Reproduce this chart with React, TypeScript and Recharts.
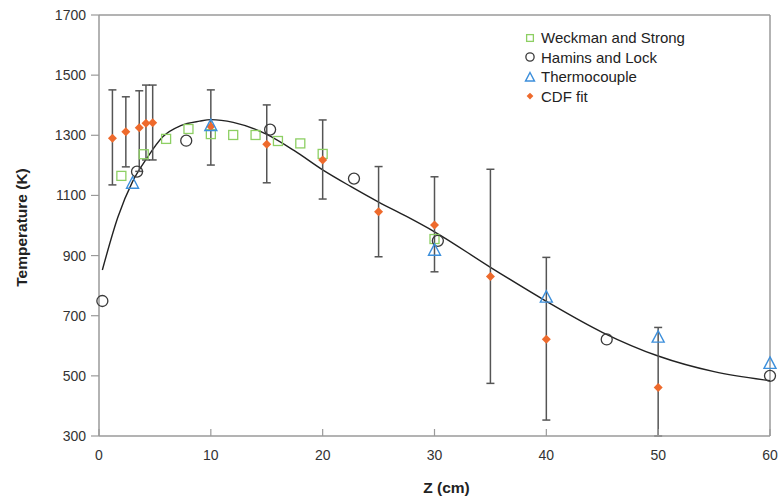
import React from 'react'
import {
  ComposedChart, Scatter, Line, XAxis, YAxis, ErrorBar, ReferenceLine, Legend
} from 'recharts'

const FONT = "'Liberation Sans', Arial, sans-serif"

const X_TICKS = [0, 10, 20, 30, 40, 50, 60]
const Y_TICKS = [300, 500, 700, 900, 1100, 1300, 1500, 1700]

// Weckman and Strong
const WS_Z = [2, 4, 6, 8, 10, 12, 14, 16, 18, 20, 30]
const WS_T = [1165, 1237, 1288, 1321, 1304, 1301, 1301, 1281, 1273, 1238, 955]

// Hamins and Lock
const HL_Z = [0.3, 3.4, 7.8, 15.3, 22.8, 30.3, 45.4, 60]
const HL_T = [749, 1179, 1282, 1319, 1156, 949, 621, 500]

// Thermocouple
const TC_Z = [3, 10, 30, 40, 50, 60]
const TC_T = [1142, 1334, 919, 763, 630, 543]

// CDF fit, with the ends of the error bars
const CDF_Z = [1.2, 2.4, 3.6, 4.2, 4.8, 10, 15, 20, 25, 30, 35, 40, 50]
const CDF_T = [1290, 1312, 1325, 1340, 1342, 1329, 1270, 1218, 1046, 1002, 830, 622, 461]
const CDF_HI = [1451, 1428, 1448, 1467, 1467, 1451, 1401, 1351, 1196, 1162, 1187, 894, 661]
const CDF_LO = [1135, 1195, 1180, 1218, 1218, 1201, 1142, 1088, 896, 846, 475, 353, 300]

// fitted curve
const FIT_Z = [0.3, 1.7, 3, 4.3, 5.7, 7.3, 9, 10, 12, 15, 17.5, 20, 22.5, 25, 27.5, 30, 35, 40, 45, 50, 55, 60]
const FIT_T = [852, 1029, 1146, 1225, 1295, 1332, 1347, 1352, 1343, 1303, 1248, 1185, 1130, 1078, 1030, 979, 861, 748, 645, 566, 514, 484]

const zip = (xs: number[], ys: number[]) => xs.map((x, i) => ({ x, y: ys[i] }))

const wsData = zip(WS_Z, WS_T)
const hlData = zip(HL_Z, HL_T)
const tcData = zip(TC_Z, TC_T)
const fitData = zip(FIT_Z, FIT_T)
const cdfData = CDF_Z.map((x, i) => ({
  x, y: CDF_T[i], err: [CDF_T[i] - CDF_LO[i], CDF_HI[i] - CDF_T[i]]
}))

const SERIES = [
  { name: 'Weckman and Strong', kind: 'square', color: '#8DCF63' },
  { name: 'Hamins and Lock', kind: 'circle', color: '#3a3a3a' },
  { name: 'Thermocouple', kind: 'triangle', color: '#3C8FDB' },
  { name: 'CDF fit', kind: 'diamond', color: '#EE6A2C' },
]

function Marker({ kind, cx, cy, color, s = 1 }: any) {
  if (cx == null || cy == null) return null
  if (kind === 'square') {
    const h = 4.5 * s
    return <rect x={cx - h} y={cy - h} width={2 * h} height={2 * h} fill='none' stroke={color} strokeWidth={1.3} />
  }
  if (kind === 'circle') {
    return <circle cx={cx} cy={cy} r={5.5 * s} fill='none' stroke={color} strokeWidth={1.3} />
  }
  if (kind === 'triangle') {
    const w = 6 * s, h = 6 * s
    return <path d={`M${cx},${cy - h} L${cx + w},${cy + h * 0.9} L${cx - w},${cy + h * 0.9} Z`}
      fill='none' stroke={color} strokeWidth={1.4} />
  }
  const d = 4.5 * s
  return <path d={`M${cx},${cy - d} L${cx + d},${cy} L${cx},${cy + d} L${cx - d},${cy} Z`} fill={color} />
}

const shapeFor = (i: number) => (p: any) =>
  <Marker kind={SERIES[i].kind} color={SERIES[i].color} cx={p.cx} cy={p.cy} />

const renderLegend = () => (
  <div style={{ fontFamily: FONT, fontSize: 15, color: '#222', lineHeight: '19.5px' }}>
    {SERIES.map(s => (
      <div key={s.name} style={{ display: 'flex', alignItems: 'center', height: 19.5 }}>
        <svg width={14} height={14}>
          <Marker kind={s.kind} color={s.color} cx={7} cy={7} s={0.75} />
        </svg>
        <span style={{ marginLeft: 4 }}>{s.name}</span>
      </div>
    ))}
  </div>
)

const YTitle = ({ viewBox }: any) => {
  const cx = 21
  const cy = viewBox.y + viewBox.height / 2 + 2
  return (
    <text x={cx} y={cy} transform={`rotate(-90, ${cx}, ${cy})`} textAnchor='middle'
      dominantBaseline='central' fontFamily={FONT} fontSize={15.5} fontWeight='bold' fill='#222'>
      Temperature (K)
    </text>
  )
}

const XTitle = ({ viewBox }: any) => (
  <text x={viewBox.x + viewBox.width / 2 + 12} y={viewBox.y + 57} textAnchor='middle'
    fontFamily={FONT} fontSize={15.5} fontWeight='bold' fill='#222'>
    Z (cm)
  </text>
)

const AXIS = '#9a9a9a'
const tickStyle = { fill: '#333', fontSize: 14, fontFamily: FONT }

export default function App() {
  return (
    <div style={{ position: 'absolute', left: 0, top: 0, background: '#fff' }}>
      <ComposedChart width={780} height={500} margin={{ top: 15, right: 10, left: 0, bottom: 0 }}>
        <XAxis type='number' dataKey='x' domain={[0, 60]} ticks={X_TICKS}
          height={64} tick={tickStyle} tickSize={-7} tickMargin={21}
          axisLine={{ stroke: AXIS, strokeWidth: 1.5 }} tickLine={{ stroke: AXIS, strokeWidth: 1.2 }}
          label={<XTitle />} />
        <YAxis type='number' dataKey='y' domain={[300, 1700]} ticks={Y_TICKS}
          width={99} tick={tickStyle} tickSize={8} tickMargin={5} interval={0}
          axisLine={{ stroke: AXIS, strokeWidth: 1.5 }} tickLine={{ stroke: AXIS, strokeWidth: 1.2 }}
          label={<YTitle />} />
        <ReferenceLine y={1700} stroke={AXIS} strokeWidth={1.5} />
        <ReferenceLine x={60} stroke={AXIS} strokeWidth={1.5} />
        <Legend content={renderLegend} layout='horizontal' verticalAlign='middle' align='center'
          wrapperStyle={{ left: 523, top: 28, width: 230 }} />
        <Line data={fitData} dataKey='y' type='monotone' stroke='#222' strokeWidth={1.4}
          dot={false} activeDot={false} isAnimationActive={false} legendType='none' />
        <Scatter name={SERIES[0].name} data={wsData} shape={shapeFor(0)} isAnimationActive={false} />
        <Scatter name={SERIES[3].name} data={cdfData} shape={shapeFor(3)} isAnimationActive={false}>
          <ErrorBar dataKey='err' direction='y' width={4} stroke='#555' strokeWidth={1.5} isAnimationActive={false} />
        </Scatter>
        <Scatter name={SERIES[1].name} data={hlData} shape={shapeFor(1)} isAnimationActive={false} />
        <Scatter name={SERIES[2].name} data={tcData} shape={shapeFor(2)} isAnimationActive={false} />
      </ComposedChart>
    </div>
  )
}
